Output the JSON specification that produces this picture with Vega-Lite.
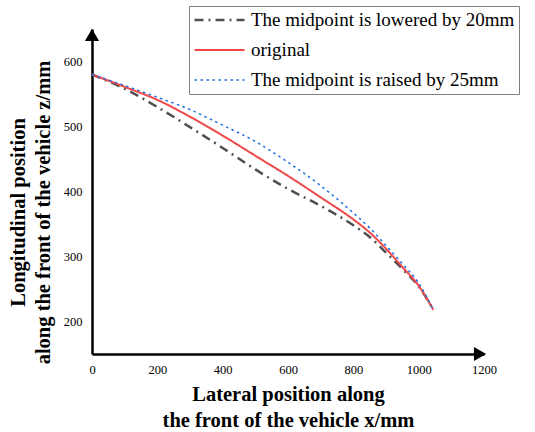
{
  "$schema": "https://vega.github.io/schema/vega-lite/v6.json",
  "autosize": "none",
  "width": 392,
  "height": 325,
  "padding": {"left": 92, "top": 29, "right": 51, "bottom": 78},
  "background": "white",
  "config": {
    "view": {"stroke": null},
    "axis": {"grid": false, "ticks": false, "domainColor": "black", "labelColor": "black", "titleColor": "black", "labelFont": "Liberation Serif", "titleFont": "Liberation Serif", "titleFontWeight": "bold", "labelFontSize": 12.5, "titleFontSize": 20.5, "domainWidth": 2.5}
  },
  "datasets": {
    "curves": [
    {"series": "The midpoint is lowered by 20mm", "x": 0, "z": 580},
    {"series": "The midpoint is lowered by 20mm", "x": 100, "z": 558},
    {"series": "The midpoint is lowered by 20mm", "x": 200, "z": 530},
    {"series": "The midpoint is lowered by 20mm", "x": 300, "z": 499},
    {"series": "The midpoint is lowered by 20mm", "x": 400, "z": 467},
    {"series": "The midpoint is lowered by 20mm", "x": 500, "z": 434},
    {"series": "The midpoint is lowered by 20mm", "x": 600, "z": 404},
    {"series": "The midpoint is lowered by 20mm", "x": 700, "z": 378},
    {"series": "The midpoint is lowered by 20mm", "x": 800, "z": 348},
    {"series": "The midpoint is lowered by 20mm", "x": 850, "z": 330},
    {"series": "The midpoint is lowered by 20mm", "x": 900, "z": 306},
    {"series": "The midpoint is lowered by 20mm", "x": 950, "z": 281},
    {"series": "The midpoint is lowered by 20mm", "x": 1000, "z": 254},
    {"series": "The midpoint is lowered by 20mm", "x": 1045, "z": 218},
    {"series": "original", "x": 0, "z": 580},
    {"series": "original", "x": 100, "z": 561},
    {"series": "original", "x": 200, "z": 541},
    {"series": "original", "x": 300, "z": 515},
    {"series": "original", "x": 400, "z": 486},
    {"series": "original", "x": 500, "z": 455},
    {"series": "original", "x": 600, "z": 424},
    {"series": "original", "x": 700, "z": 391},
    {"series": "original", "x": 800, "z": 357},
    {"series": "original", "x": 850, "z": 337},
    {"series": "original", "x": 900, "z": 312},
    {"series": "original", "x": 950, "z": 284},
    {"series": "original", "x": 1000, "z": 255},
    {"series": "original", "x": 1045, "z": 218},
    {"series": "The midpoint is raised by 25mm", "x": 0, "z": 580},
    {"series": "The midpoint is raised by 25mm", "x": 100, "z": 563},
    {"series": "The midpoint is raised by 25mm", "x": 200, "z": 545},
    {"series": "The midpoint is raised by 25mm", "x": 300, "z": 526},
    {"series": "The midpoint is raised by 25mm", "x": 400, "z": 502},
    {"series": "The midpoint is raised by 25mm", "x": 500, "z": 477},
    {"series": "The midpoint is raised by 25mm", "x": 600, "z": 445},
    {"series": "The midpoint is raised by 25mm", "x": 700, "z": 409},
    {"series": "The midpoint is raised by 25mm", "x": 800, "z": 367},
    {"series": "The midpoint is raised by 25mm", "x": 850, "z": 344},
    {"series": "The midpoint is raised by 25mm", "x": 900, "z": 317},
    {"series": "The midpoint is raised by 25mm", "x": 950, "z": 289},
    {"series": "The midpoint is raised by 25mm", "x": 1000, "z": 259},
    {"series": "The midpoint is raised by 25mm", "x": 1045, "z": 218}
    ],
    "xArrow": [{"x": 1188, "z": 150}],
    "yArrow": [{"x": 0, "z": 641}],
    "xTicks": [{"x": 100}, {"x": 200}, {"x": 300}, {"x": 400}, {"x": 500}, {"x": 600}, {"x": 700}, {"x": 800}, {"x": 900}, {"x": 1000}, {"x": 1100}],
    "yMajor": [{"z": 200}, {"z": 300}, {"z": 400}, {"z": 500}, {"z": 600}],
    "yMinor": [{"z": 250}, {"z": 350}, {"z": 450}, {"z": 550}]
  },
  "encoding": {
    "x": {"field": "x", "type": "quantitative", "scale": {"domain": [0, 1200], "nice": false},
      "axis": {"values": [0,200,400,600,800,1000,1200], "format": "d", "labelPadding": 9, "labelFlush": false,
        "title": ["Lateral position along", "the front of the vehicle x/mm"], "titlePadding": 9, "titleLineHeight": 26}},
    "y": {"field": "z", "type": "quantitative", "scale": {"domain": [150, 650], "nice": false, "zero": false},
      "axis": {"values": [200,300,400,500,600], "format": "d", "labelPadding": 10,
        "title": ["Longitudinal position", "along the front of the vehicle z/mm"], "titlePadding": 10, "titleLineHeight": 25, "titleY": 183}}
  },
  "layer": [
    {
      "data": {"name": "curves"},
      "mark": {"type": "line", "interpolate": "monotone"},
      "encoding": {
        "color": {"field": "series", "type": "nominal", "sort": null,
          "scale": {"domain": ["The midpoint is lowered by 20mm", "original", "The midpoint is raised by 25mm"], "range": ["#505050", "#f04848", "#1f6fe5"]},
          "legend": {"orient": "none", "legendX": 97, "legendY": -23, "title": null, "symbolType": "stroke", "symbolSize": 2500, "symbolStrokeWidth": 2.5, "clipHeight": 20,
            "labelFont": "Liberation Serif", "labelFontSize": 19, "labelColor": "black", "labelLimit": 400, "rowPadding": 10, "padding": 4,
            "strokeColor": "#808080", "fillColor": "white", "labelOffset": 5}},
        "strokeDash": {"field": "series", "type": "nominal", "sort": null,
          "scale": {"domain": ["The midpoint is lowered by 20mm", "original", "The midpoint is raised by 25mm"], "range": [[9, 5, 2, 5], [1, 0], [2.5, 3.5]]}},
        "strokeWidth": {"field": "series", "type": "ordinal", "legend": null,
          "scale": {"domain": ["The midpoint is lowered by 20mm", "original", "The midpoint is raised by 25mm"], "range": [2.5, 1.5, 3]}}
      }
    },
    {
      "data": {"name": "xTicks"},
      "mark": {"type": "rule", "color": "black", "strokeWidth": 2, "clip": false},
      "encoding": {"y": {"datum": 150}, "y2": {"datum": 159}}
    },
    {
      "data": {"name": "yMajor"},
      "mark": {"type": "rule", "color": "black", "strokeWidth": 2, "clip": false},
      "encoding": {"x": {"datum": 0}, "x2": {"datum": -17}}
    },
    {
      "data": {"name": "yMinor"},
      "mark": {"type": "rule", "color": "black", "strokeWidth": 2, "clip": false},
      "encoding": {"x": {"datum": 0}, "x2": {"datum": 17}}
    },
    {
      "data": {"name": "xArrow"},
      "mark": {"type": "point", "shape": "triangle-right", "filled": true, "color": "black", "opacity": 1, "size": 200, "clip": false}
    },
    {
      "data": {"name": "yArrow"},
      "mark": {"type": "point", "shape": "triangle-up", "filled": true, "color": "black", "opacity": 1, "size": 200, "clip": false}
    }
  ]
}
